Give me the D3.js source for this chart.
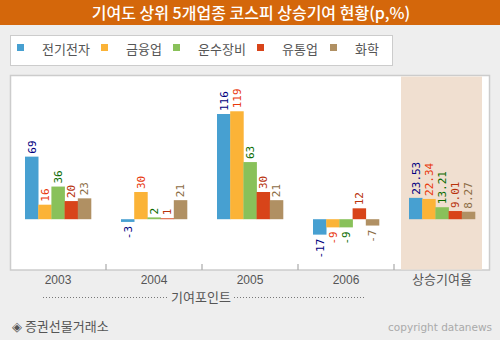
<!DOCTYPE html>
<html><head><meta charset="utf-8">
<script src="https://cdn.jsdelivr.net/npm/d3@7"></script>
<style>
html,body{margin:0;padding:0;background:#eeeeee;}
svg{display:block;}
</style></head>
<body>
<svg id="c" width="500" height="340"></svg>
<script>
const categories = ["2003", "2004", "2005", "2006", "상승기여율"];
const seriesNames = ["전기전자", "금융업", "운수장비", "유통업", "화학"];
const v전기전자 = [69, -3, 116, -17, 23.53];
const v금융업 = [16, 30, 119, -9, 22.34];
const v운수장비 = [36, 2, 63, -9, 13.21];
const v유통업 = [20, 1, 30, 12, 9.01];
const v화학 = [23, 21, 21, -7, 8.27];
const labels전기전자 = ["69", "-3", "116", "-17", "23.53"];
const labels금융업 = ["16", "30", "119", "-9", "22.34"];
const labels운수장비 = ["36", "2", "63", "-9", "13.21"];
const labels유통업 = ["20", "1", "30", "12", "9.01"];
const labels화학 = ["23", "21", "21", "-7", "8.27"];
const barColors = ["#47a0d1", "#fbb337", "#89c15a", "#d84419", "#b09063"];
const labelColors = ["#000080", "#e8380d", "#0b6b00", "#b8320c", "#8c6c44"];

const values = [v전기전자, v금융업, v운수장비, v유통업, v화학];
const labelTexts = [labels전기전자, labels금융업, labels운수장비, labels유통업, labels화학];

const svg = d3.select("#c");
const KR = "'Noto Sans CJK KR','Noto Sans',sans-serif";

// title bar
svg.append("rect").attr("x",0).attr("y",0).attr("width",500).attr("height",25).attr("fill","#d4670b");
svg.append("text").attr("x",251).attr("y",18.5).attr("text-anchor","middle")
  .attr("fill","#fff").attr("font-family",KR).attr("font-size",16).attr("font-weight","500")
  .text("기여도 상위 5개업종 코스피 상승기여 현황(p,%)");

// legend
svg.append("rect").attr("x",10.5).attr("y",35.5).attr("width",382).attr("height",30)
  .attr("fill","#fff").attr("stroke","#cccccc");
const legX = [17, 101, 173, 257, 330];
seriesNames.forEach((n,i)=>{
  svg.append("rect").attr("x",legX[i]).attr("y",44).attr("width",7).attr("height",7).attr("fill",barColors[i]);
  svg.append("text").attr("x",legX[i]+25).attr("y",54).attr("fill","#555")
    .attr("font-family",KR).attr("font-size",13).text(n);
});

// plot
const x = d3.scaleBand().domain(categories).range([10,490]).paddingInner(0).paddingOuter(0);
const xs = d3.scaleBand().domain(seriesNames).range([-33,33]).paddingInner(0);
const y = d3.scaleLinear().domain([-56,159]).range([270,75]);

svg.append("rect").attr("x",10.5).attr("y",75.5).attr("width",479).attr("height",194.5)
  .attr("fill","#fff").attr("stroke","#cccccc").attr("stroke-width",1.5);

// shaded region
const last = categories[4];
svg.append("rect").attr("x",x(last)+7).attr("y",76.5).attr("width",x.bandwidth()-15).attr("height",193)
  .attr("fill","#f0dfd0");

// ticks
categories.slice(1).forEach(c=>{
  svg.append("line").attr("x1",x(c)).attr("x2",x(c)).attr("y1",264).attr("y2",270)
    .attr("stroke","#aaa").attr("stroke-width",1.2);
});

// bars
const g = svg.append("g");
categories.forEach((c,ci)=>{
  const cx = x(c) + x.bandwidth()/2;
  seriesNames.forEach((s,si)=>{
    const v = values[si][ci];
    const bx = cx + xs(s);
    g.append("rect").attr("x",bx).attr("width",xs.bandwidth()+0.3)
      .attr("y",y(Math.max(0,v))).attr("height",Math.abs(y(v)-y(0)))
      .attr("fill",barColors[si]);
    const lx = bx + xs.bandwidth()/2 + 4;
    let ly, anchor;
    if (v >= 0) { ly = y(v) - 3; anchor = "start"; }
    else { ly = y(v) + 4; anchor = "end"; }
    g.append("text").attr("transform",`translate(${lx},${ly}) rotate(-90)`)
      .attr("text-anchor",anchor).attr("fill",labelColors[si])
      .attr("font-family","'DejaVu Sans Mono',monospace").attr("font-size",11)
      .text(labelTexts[si][ci]);
  });
});

// x labels
categories.forEach((c,ci)=>{
  svg.append("text").attr("x",x(c)+x.bandwidth()/2).attr("y",ci===4?284:284)
    .attr("text-anchor","middle").attr("fill","#555")
    .attr("font-family",ci===4?KR:"'Liberation Sans',Arial,sans-serif").attr("font-size",ci===4?13:12)
    .text(c);
});

// axis title with dotted line
svg.append("line").attr("x1",43).attr("x2",168).attr("y1",297.5).attr("y2",297.5)
  .attr("stroke","#777").attr("stroke-dasharray","1,2");
svg.append("line").attr("x1",234).attr("x2",366).attr("y1",297.5).attr("y2",297.5)
  .attr("stroke","#777").attr("stroke-dasharray","1,2");
svg.append("text").attr("x",201).attr("y",302).attr("text-anchor","middle").attr("fill","#555")
  .attr("font-family",KR).attr("font-size",13).text("기여포인트");

// footer
svg.append("text").attr("x",12).attr("y",331).attr("fill","#555")
  .attr("font-family",KR).attr("font-size",13).text("◈ 증권선물거래소");
svg.append("text").attr("x",492).attr("y",331).attr("text-anchor","end").attr("fill","#aaa")
  .attr("font-family","Verdana,'DejaVu Sans',sans-serif").attr("font-size",10.5).text("copyright datanews");
</script>
</body></html>
